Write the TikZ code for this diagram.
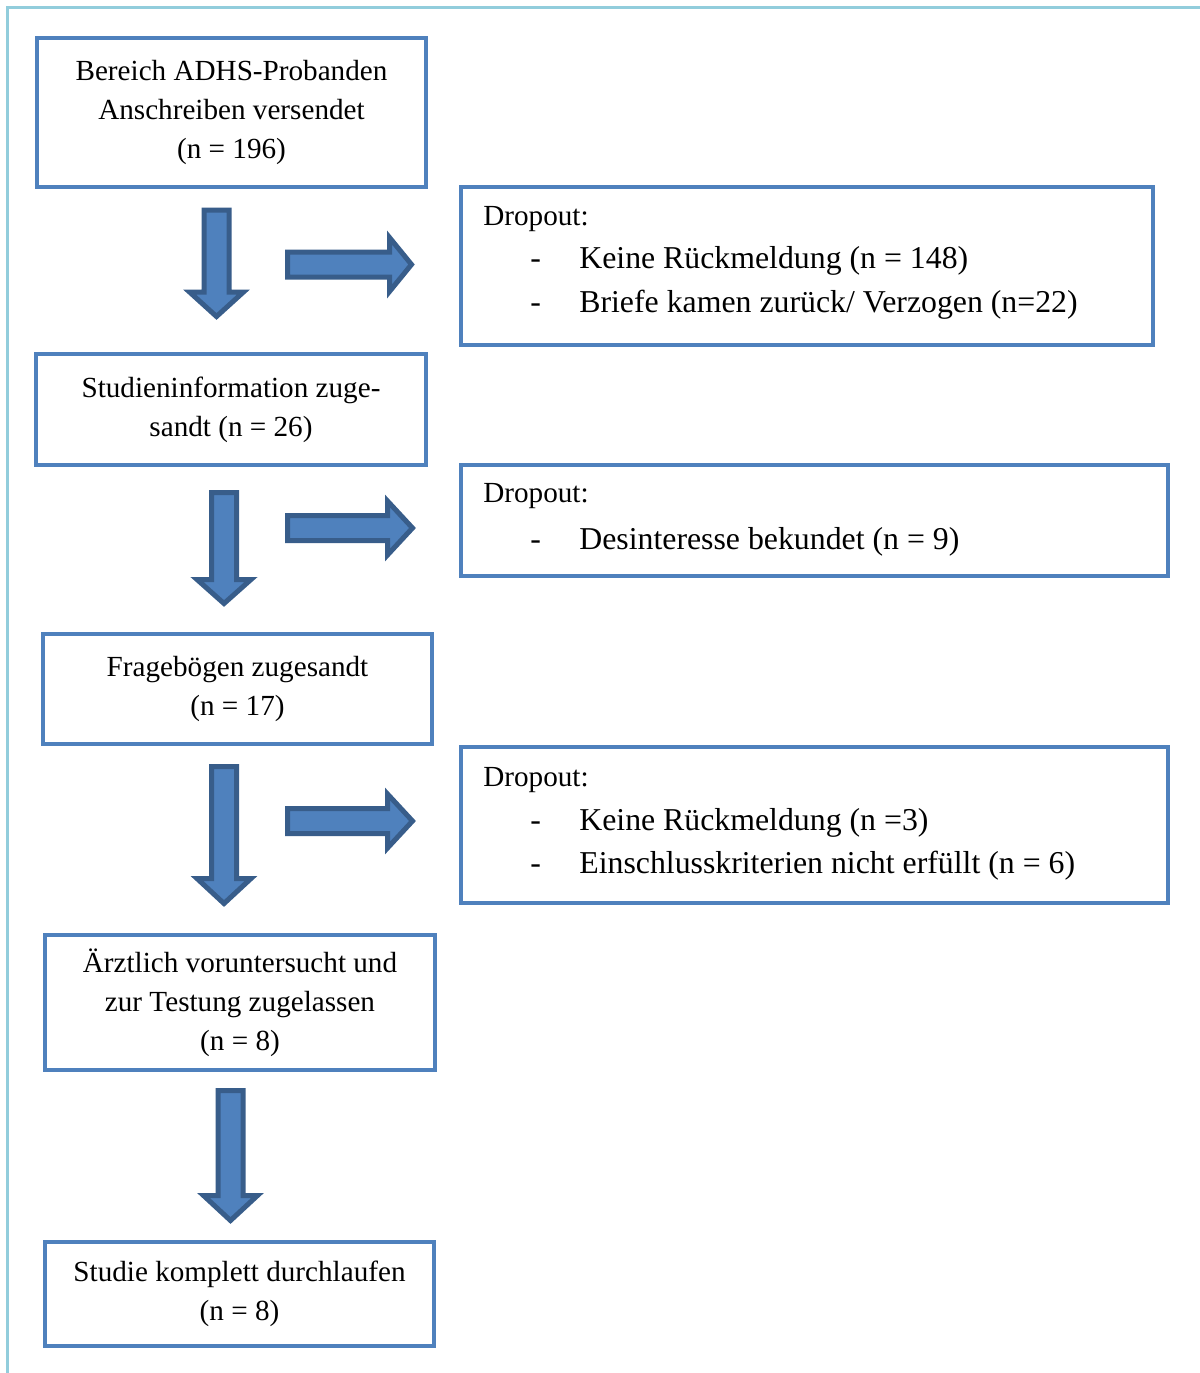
\documentclass[tikz,border=0pt]{standalone}
\usepackage{fontspec}
\setmainfont{Liberation Serif}
\usepackage{xcolor}
\usepackage{tikz}

\definecolor{boxblue}{RGB}{79,129,189}
\definecolor{arrowedge}{RGB}{56,93,138}
\definecolor{framecyan}{RGB}{146,205,220}

\tikzset{
    box/.style={draw=boxblue, line width=0.08cm, align=center, inner sep=0pt,
        font=\fontsize{16.6}{22.1}\selectfont},
    dropbox/.style={draw=boxblue, line width=0.08cm, inner sep=0pt},
    droptitle/.style={anchor=base west, inner sep=0pt, font=\fontsize{16.6}{22.1}\selectfont},
    dropitem/.style={anchor=base west, inner sep=0pt, font=\fontsize{18.1}{24.7}\selectfont},
    blockarrow/.style={fill=boxblue, draw=arrowedge, line width=0.1cm}
}

\begin{document}
\begin{tikzpicture}[x=0.02cm, y=-0.02cm]
        \useasboundingbox (0,0) rectangle (1200,1373);
        \fill[white] (0,0) rectangle (1200,1373);
        \draw[framecyan, line width=0.06cm] (1200,7.7) -- (7.7,7.7) -- (7.7,1373);

        % left column
        \node[box, minimum width=7.78cm, minimum height=2.98cm] (anschreiben) at (231.5,112.5)
            {Bereich ADHS-Probanden\\Anschreiben versendet\\(n = 196)};
        \node[box, minimum width=7.8cm, minimum height=2.22cm] (info) at (231,409.5)
            {Studieninformation zuge-\\sandt (n = 26)};
        \node[box, minimum width=7.78cm, minimum height=2.2cm] (frageboegen) at (237.5,689)
            {Fragebögen zugesandt\\(n = 17)};
        \node[box, minimum width=7.8cm, minimum height=2.7cm] (arzt) at (240,1002.5)
            {Ärztlich voruntersucht und\\zur Testung zugelassen\\(n = 8)};
        \node[box, minimum width=7.78cm, minimum height=2.08cm] (komplett) at (239.5,1294)
            {Studie komplett durchlaufen\\(n = 8)};

        % dropout boxes
        \node[dropbox, minimum width=13.84cm, minimum height=3.16cm] (drop1) at (807,266) {};
        \node[dropbox, minimum width=14.14cm, minimum height=2.22cm] (drop2) at (814.5,520.5) {};
        \node[dropbox, minimum width=14.14cm, minimum height=3.12cm] (drop3) at (814.5,825) {};

        \node[droptitle] (drop1title) at (483,225) {Dropout:};
        \node[dropitem] (drop1dasha) at (530,268) {-};
        \node[dropitem] (drop1a) at (579,268) {Keine Rückmeldung (n = 148)};
        \node[dropitem] (drop1dashb) at (530,312) {-};
        \node[dropitem] (drop1b) at (579,312) {Briefe kamen zurück/ Verzogen (n=22)};

        \node[droptitle] (drop2title) at (483,502) {Dropout:};
        \node[dropitem] (drop2dasha) at (530,549) {-};
        \node[dropitem] (drop2a) at (579,549) {Desinteresse bekundet (n = 9)};

        \node[droptitle] (drop3title) at (483,786) {Dropout:};
        \node[dropitem] (drop3dasha) at (530,830) {-};
        \node[dropitem] (drop3a) at (579,830) {Keine Rückmeldung (n =3)};
        \node[dropitem] (drop3dashb) at (530,873) {-};
        \node[dropitem] (drop3b) at (579,873) {Einschlusskriterien nicht erfüllt (n = 6)};

        % block arrows down
        \foreach \cx/\ytop/\yhead/\ytip in {216.5/210/292/316.5, 224/492.5/579.5/603.5,
                224/766.5/878.5/903.5, 230.5/1090.5/1195.5/1220.5}
            \draw[blockarrow] (\cx-12.5,\ytop) -- (\cx+12.5,\ytop) -- (\cx+12.5,\yhead)
                -- (\cx+27,\yhead) -- (\cx,\ytip) -- (\cx-27,\yhead) -- (\cx-12.5,\yhead) -- cycle;

        % block arrows right
        \foreach \cy/\xhead/\xtip in {264.5/389.5/411.5, 528/387.5/412.5, 821/387.5/412.5}
            \draw[blockarrow] (287.5,\cy-12.5) -- (\xhead,\cy-12.5) -- (\xhead,\cy-27)
                -- (\xtip,\cy) -- (\xhead,\cy+27) -- (\xhead,\cy+12.5) -- (287.5,\cy+12.5) -- cycle;
    \end{tikzpicture}
\end{document}
